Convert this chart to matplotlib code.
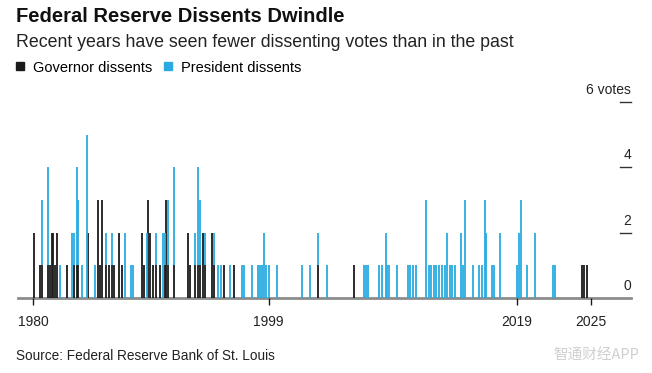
import matplotlib
matplotlib.use("Agg")
import matplotlib.pyplot as plt
import numpy as np
from matplotlib.lines import Line2D

plt.rcParams['font.family'] = ['Liberation Sans', 'DejaVu Sans']

# FOMC meetings with dissents (decimal year), governor / president dissent counts
years = [1980.08, 1980.56, 1980.73, 1981.21, 1981.37, 1981.53, 1981.64, 1981.77, 1981.94, 1982.18,
         1982.72, 1983.12, 1983.33, 1983.52, 1983.65, 1983.93, 1984.33, 1984.46, 1985.00, 1985.22,
         1985.40, 1985.59, 1985.86, 1986.13, 1986.35, 1986.53, 1986.94, 1987.18, 1987.42, 1987.90,
         1988.06, 1988.77, 1988.99, 1989.17, 1989.30, 1989.44, 1989.68, 1989.90, 1990.24, 1990.51,
         1990.65, 1990.75, 1990.88, 1991.40, 1992.48, 1992.66, 1993.06, 1993.28, 1993.47, 1993.73,
         1993.87, 1994.41, 1994.62, 1994.92, 1995.16, 1995.40, 1995.89, 1996.23, 1996.83, 1997.04,
         1997.64, 1998.12, 1998.31, 1998.47, 1998.60, 1998.79, 1999.03, 1999.70, 2001.67, 2002.34,
         2003.01, 2003.73, 2005.89, 2006.69, 2006.85, 2007.02, 2007.90, 2008.15, 2008.44, 2008.55,
         2008.71, 2009.33, 2010.24, 2010.44, 2010.65, 2010.89, 2011.69, 2011.90, 2012.10, 2012.34,
         2012.54, 2012.74, 2012.98, 2013.23, 2013.41, 2013.63, 2013.83, 2014.03, 2014.49, 2014.68,
         2014.81, 2015.51, 2015.97, 2016.19, 2016.45, 2016.56, 2016.99, 2017.18, 2017.66, 2019.06,
         2019.22, 2019.33, 2019.86, 2020.46, 2021.91, 2022.12, 2024.25, 2024.46, 2024.70]
governor = [2, 1, 1, 1, 1, 2, 2, 1, 2, 0,
            1, 0, 1, 1, 1, 0, 0, 2, 0, 3,
            1, 3, 1, 1, 1, 1, 2, 1, 0, 0,
            0, 2, 1, 0, 3, 2, 1, 1, 1, 0,
            1, 3, 1, 1, 2, 1, 1, 1, 1, 2,
            1, 2, 1, 0, 0, 1, 0, 1, 0, 0,
            0, 0, 0, 0, 0, 0, 0, 0, 0, 0,
            1, 0, 1, 0, 0, 0, 0, 0, 0, 0,
            0, 0, 0, 0, 0, 0, 0, 0, 0, 0,
            0, 0, 0, 0, 0, 0, 0, 0, 0, 0,
            0, 0, 0, 0, 0, 0, 0, 0, 0, 0,
            0, 0, 0, 0, 0, 0, 1, 1, 1]
president = [0, 0, 2, 3, 0, 0, 0, 0, 0, 1,
             0, 2, 1, 3, 2, 1, 5, 0, 1, 0,
             0, 0, 1, 0, 1, 0, 0, 0, 2, 1,
             1, 0, 0, 2, 0, 0, 0, 1, 0, 2,
             1, 0, 2, 3, 0, 0, 1, 3, 2, 0,
             1, 0, 1, 1, 1, 0, 1, 0, 1, 1,
             1, 1, 1, 1, 2, 1, 1, 1, 1, 1,
             1, 1, 0, 1, 1, 1, 1, 1, 2, 1,
             1, 1, 1, 1, 1, 1, 3, 1, 1, 1,
             1, 1, 1, 1, 2, 1, 1, 1, 2, 1,
             3, 1, 1, 1, 3, 2, 1, 1, 2, 1,
             2, 3, 1, 2, 1, 1, 0, 0, 0]

xticks = [1980, 1999, 2019, 2025]
yticks = [0, 2, 4, 6]
ytick_labels = ['0', '2', '4', '6 votes']

black = '#1a1a1a'
blue = '#29abe2'

fig = plt.figure(figsize=(6.52, 3.73), dpi=100)
ax = fig.add_axes([18 / 652, 75 / 373, 613 / 652, 213 / 373])

gov = np.array(governor)
pres = np.array(president)
yrs = np.array(years)
g = gov > 0
p = pres > 0
ax.vlines(yrs[g], 0, gov[g], color=black, lw=1.3)
ax.vlines(yrs[p], gov[p], gov[p] + pres[p], color=blue, lw=1.3)

ax.set_xlim(1978.79, 2028.23)
ax.set_ylim(0, 6.52)

for s in ['top', 'left', 'right']:
    ax.spines[s].set_visible(False)
ax.spines['bottom'].set_color('#8c8c8c')
ax.spines['bottom'].set_linewidth(2)
ax.spines['bottom'].set_zorder(0.5)

ax.set_xticks(xticks)
ax.set_xticklabels([str(t) for t in xticks], fontsize=10, color='#222222')
ax.tick_params(axis='x', length=5, width=1, color=black, pad=7)
ax.set_yticks([])

# right-side labels sitting above short dashes
for v, lab in zip(yticks, ytick_labels):
    ax.text(1.0, v + 0.15, lab, transform=ax.get_yaxis_transform(), ha='right', va='bottom',
            fontsize=10, color='#222222')
    if v > 0:
        ax.plot([0.982, 1.0], [v, v], transform=ax.get_yaxis_transform(), color='#333333', lw=1,
                clip_on=False)

fig.text(16 / 652, 1 - 21.5 / 373, 'Federal Reserve Dissents Dwindle', fontsize=14.5,
         fontweight='bold', color='#111111', va='baseline')
fig.text(16 / 652, 1 - 47 / 373, 'Recent years have seen fewer dissenting votes than in the past',
         fontsize=12.8, color='#222222', va='baseline')

handles = [Line2D([], [], marker='s', ls='', color=black, markersize=6),
           Line2D([], [], marker='s', ls='', color=blue, markersize=6)]
fig.legend(handles, ['Governor dissents', 'President dissents'], ncol=2, frameon=False,
           loc='upper left', bbox_to_anchor=(15.6 / 652, 1 - 60.5 / 373), fontsize=10.5,
           handlelength=0.6, handletextpad=0.59, columnspacing=0.8, borderpad=0, borderaxespad=0)

fig.text(16 / 652, 1 - 360 / 373, 'Source: Federal Reserve Bank of St. Louis', fontsize=9.8,
         color='#222222', va='baseline')
fig.text(553 / 652, 1 - 360 / 373, '智通财经APP', fontsize=10.5, color='#cfcfcf', va='baseline',
         family=['Noto Sans CJK SC', 'DejaVu Sans'])

fig.savefig('out.png', dpi=100)
